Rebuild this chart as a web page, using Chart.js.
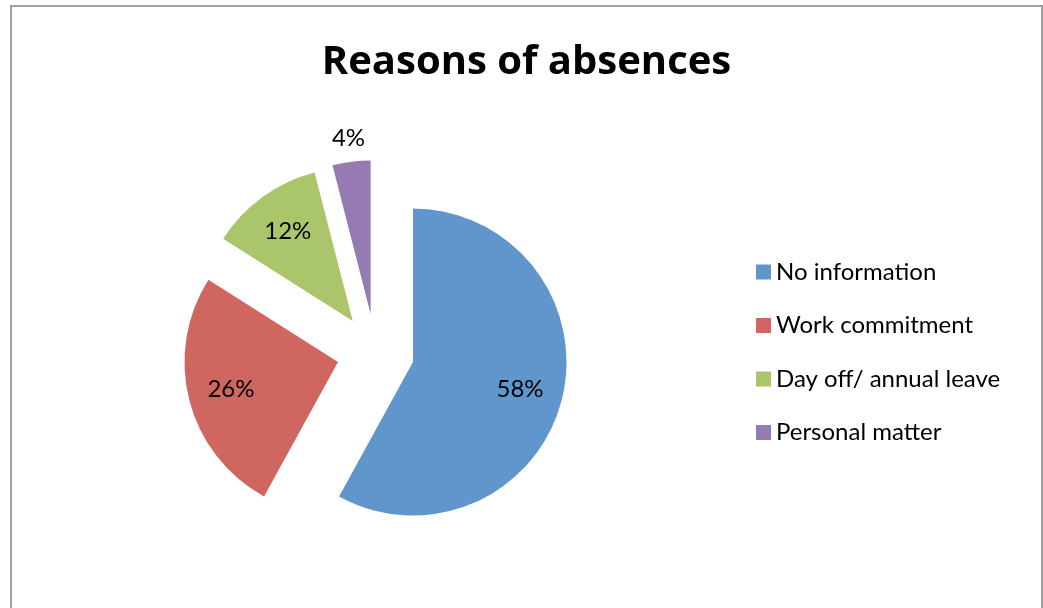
<!DOCTYPE html>
<html>
<head>
<meta charset="utf-8">
<script src="https://cdn.jsdelivr.net/npm/chart.js@4/dist/chart.umd.min.js"></script>
<style>
  html, body { margin: 0; padding: 0; background: #ffffff; width: 1043px; height: 608px; overflow: hidden; position: relative; }
  #frame { position: absolute; left: 10px; top: 5px; width: 1029px; height: 700px; border: 2px solid #a0a0a0; box-sizing: content-box; }
  #c { position: absolute; left: -20px; top: 0; }
</style>
</head>
<body>
<div id="frame"></div>
<canvas id="c" width="1100" height="608"></canvas>
<script>
// ---- data ----
const chartTitle = 'Reasons of absences';
const categories = ['No information', 'Work commitment', 'Day off/ annual leave', 'Personal matter'];
const shares = [58, 26, 12, 4];
const sliceColors = ['#6096CB', '#CF6660', '#ABC56B', '#957BB2'];

// ---- styling / layout constants ----
const FONT = 'Lato';
const TITLE_FONT = '"Open Sans"';
const LEGEND_SIZE = 24;
const LEGEND_PAD = 7;

// measure widest legend text to size a right-side spacer box
const mctx = document.createElement('canvas').getContext('2d');
mctx.font = 'normal ' + LEGEND_SIZE + 'px ' + FONT;
const widest = Math.max(...categories.map(c => mctx.measureText(c).width));
const spacer = Math.max(1, 272 - widest);

const explodePlugin = {
  id: 'explodeSlices',
  beforeDatasetsDraw(chart, args, opts) {
    const {left, right, top, bottom} = chart.chartArea;
    const cx = (left + right) / 2, cy = (top + bottom) / 2;
    chart.getDatasetMeta(0).data.forEach(arc => {
      const mid = (arc.startAngle + arc.endAngle) / 2;
      arc.x = cx + Math.cos(mid) * opts.distance;
      arc.y = cy + Math.sin(mid) * opts.distance;
    });
  }
};

const labelPlugin = {
  id: 'sliceLabels',
  afterDatasetsDraw(chart, args, opts) {
    const ctx = chart.ctx;
    const values = chart.data.datasets[0].data;
    const total = values.reduce((a, b) => a + b, 0);
    ctx.save();
    ctx.font = opts.size + 'px ' + FONT;
    ctx.fillStyle = opts.color;
    ctx.textAlign = 'center';
    ctx.textBaseline = 'middle';
    chart.getDatasetMeta(0).data.forEach((arc, i) => {
      const pct = values[i] / total * 100;
      const mid = (arc.startAngle + arc.endAngle) / 2;
      const dist = pct < opts.outsideBelow ? arc.outerRadius + opts.outsideGap : arc.outerRadius * opts.insideRatio;
      ctx.fillText(Math.round(pct) + '%', arc.x + Math.cos(mid) * dist, arc.y + Math.sin(mid) * dist);
    });
    ctx.restore();
  }
};

const baseLabels = (Chart.overrides.pie || Chart.overrides.doughnut).plugins.legend.labels.generateLabels;

new Chart(document.getElementById('c'), {
  type: 'pie',
  data: {
    labels: categories,
    datasets: [{
      data: shares,
      backgroundColor: sliceColors,
      borderWidth: 0,
      hoverOffset: 0,
      radius: 153.5
    }]
  },
  plugins: [explodePlugin, labelPlugin],
  options: {
    responsive: false,
    animation: false,
    events: [],
    layout: { padding: { left: 15, right: 22, top: 0, bottom: 0 } },
    plugins: {
      explodeSlices: { distance: 38.7 },
      sliceLabels: { size: 24, color: '#000000', insideRatio: 0.72, outsideBelow: 5, outsideGap: 23.5 },
      title: {
        display: true,
        text: chartTitle,
        color: '#000000',
        font: { family: TITLE_FONT, size: 40, weight: 'bold', lineHeight: 1.2 },
        padding: { top: 38.5, bottom: 10.3 }
      },
      subtitle: {
        display: true,
        position: 'right',
        text: '',
        font: { size: spacer, lineHeight: 1 },
        padding: 0
      },
      legend: {
        position: 'right',
        fullSize: false,
        title: { display: true, text: '', font: { size: 1, lineHeight: 1 }, padding: { top: 21.2, bottom: 0 } },
        labels: {
          usePointStyle: true,
          pointStyle: 'rect',
          boxWidth: 1,
          boxHeight: 15,
          padding: LEGEND_PAD,
          color: '#000000',
          font: { family: FONT, size: LEGEND_SIZE, lineHeight: 46.5 / LEGEND_SIZE },
          generateLabels(chart) {
            return baseLabels(chart).map(item => Object.assign({}, item, { text: [item.text] }));
          }
        }
      },
      tooltip: { enabled: false }
    }
  }
});
</script>
</body>
</html>
